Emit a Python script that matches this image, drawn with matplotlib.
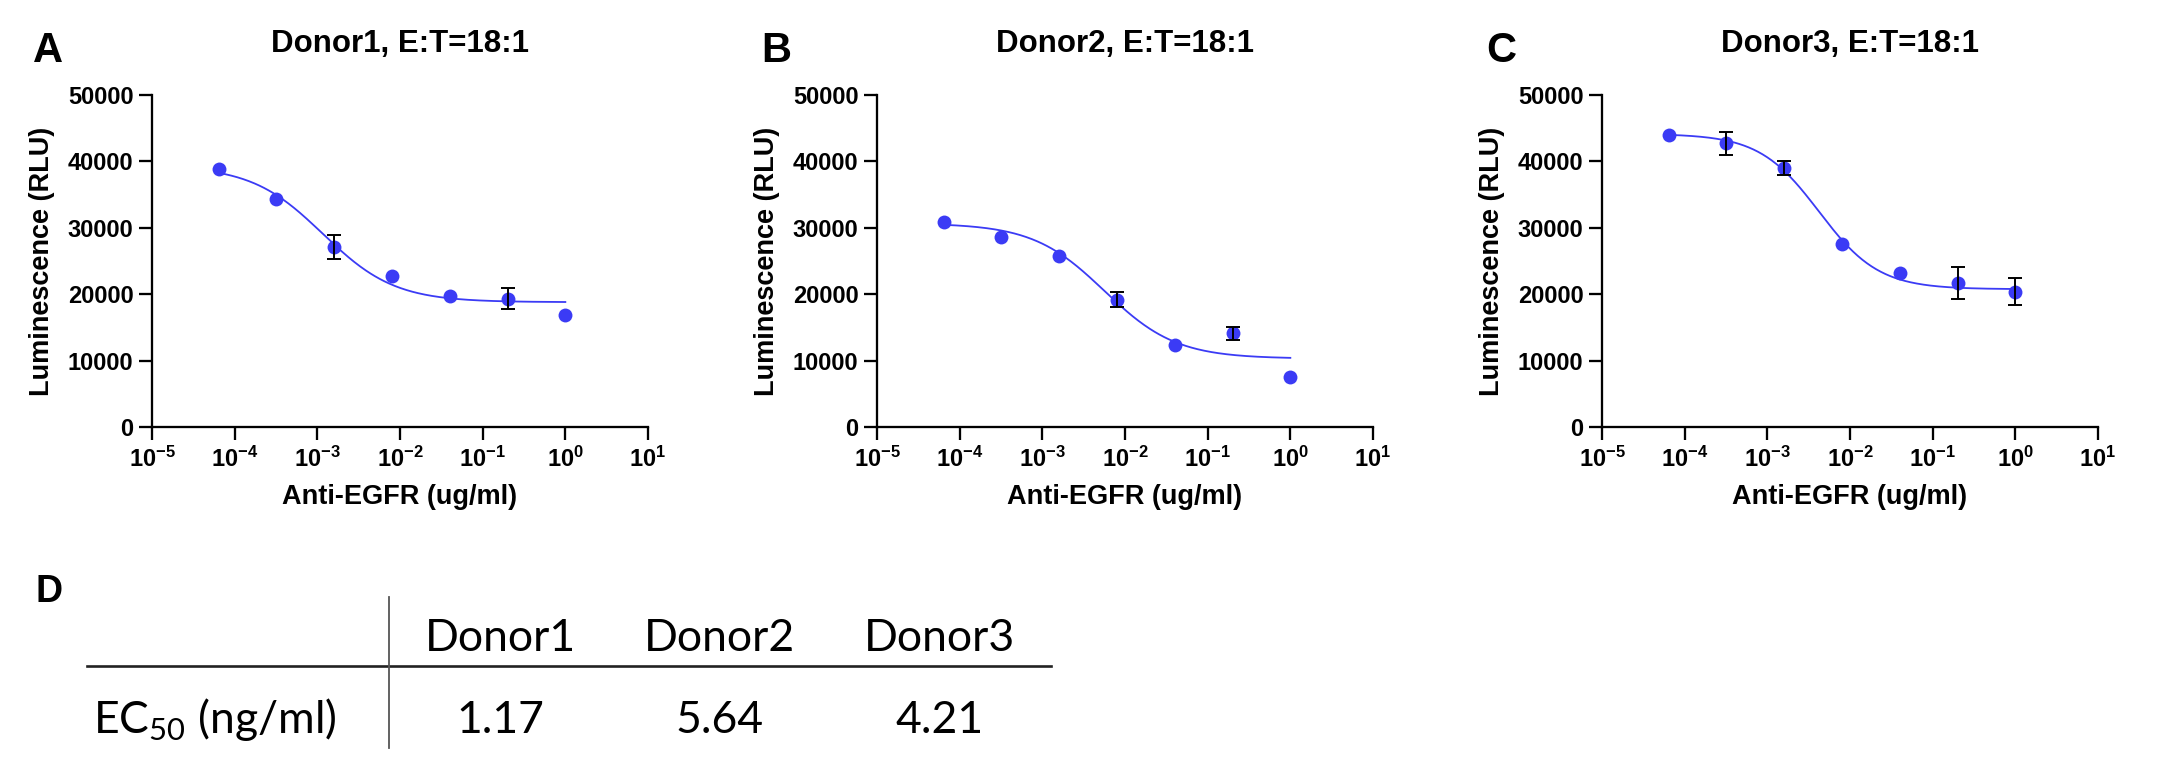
import numpy as np
import matplotlib
matplotlib.use("Agg")
import matplotlib.pyplot as plt
from matplotlib.lines import Line2D
from matplotlib.ticker import LogLocator, NullLocator

plt.rcParams["font.family"] = ["Liberation Sans", "DejaVu Sans"]
plt.rcParams["font.weight"] = "bold"
plt.rcParams["axes.labelweight"] = "bold"
plt.rcParams["axes.titleweight"] = "bold"

# anti-EGFR concentration (ug/ml), 5-fold dilutions
conc = [6.4e-5, 3.2e-4, 1.6e-3, 8e-3, 4e-2, 0.2, 1.0]

donor1_mean = [38800, 34300, 27100, 22700, 19700, 19300, 16900]
donor1_sd = [0, 0, 1800, 0, 0, 1600, 0]
donor2_mean = [30900, 28600, 25700, 19200, 12300, 14100, 7600]
donor2_sd = [0, 0, 0, 1200, 0, 1000, 0]
donor3_mean = [44000, 42700, 39000, 27600, 23200, 21700, 20400]
donor3_sd = [0, 1750, 1000, 0, 0, 2350, 2050]

# 4PL fit parameters (EC50 in ng/ml, from table D)
donors = ["Donor1", "Donor2", "Donor3"]
ec50_ng = [1.17, 5.64, 4.21]
fit_top = [39340, 30680, 44150]
fit_bottom = [18800, 10300, 20750]
fit_hill = [1.0, 1.0, 1.2]

panel_letters = ["A", "B", "C"]
means = [donor1_mean, donor2_mean, donor3_mean]
sds = [donor1_sd, donor2_sd, donor3_sd]

W, H = 2175, 779
fig = plt.figure(figsize=(W / 100, H / 100), dpi=100)

blue = "#3b3bf5"
lefts = [152, 877, 1602]
letter_x = [33, 761, 1486]

for i in range(3):
    ax = fig.add_axes([lefts[i] / W, 1 - 427 / H, 496 / W, 332 / H])
    x = np.array(conc)
    y = np.array(means[i])
    e = np.array(sds[i])

    xs = np.logspace(np.log10(x[0]), np.log10(x[-1]), 300)
    ec50 = ec50_ng[i] / 1000.0
    fit = fit_bottom[i] + (fit_top[i] - fit_bottom[i]) / (1 + (xs / ec50) ** fit_hill[i])
    ax.plot(xs, fit, color=blue, lw=1.3, zorder=2)
    ax.plot(x, y, "o", ms=10, color=blue, mec="none", zorder=3)
    m = e > 0
    ax.errorbar(x[m], y[m], yerr=e[m], fmt="none", ecolor="black",
                elinewidth=1.4, capsize=4.7, capthick=1.4, zorder=4)

    ax.set_xscale("log")
    ax.set_xlim(1e-5, 10)
    ax.set_ylim(0, 50000)
    ax.set_yticks(np.arange(0, 50001, 10000))
    ax.xaxis.set_major_locator(LogLocator(base=10, numticks=10))
    ax.xaxis.set_minor_locator(NullLocator())
    for s in ["top", "right"]:
        ax.spines[s].set_visible(False)
    for s in ["left", "bottom"]:
        ax.spines[s].set_linewidth(1.65)
    ax.tick_params(axis="both", length=9.4, width=1.65, labelsize=17)
    ax.tick_params(axis="y", pad=4)
    ax.tick_params(axis="x", pad=5)

    ax.set_title("{}, E:T=18:1".format(donors[i]), fontsize=22.5, pad=31)
    ax.set_xlabel("Anti-EGFR (ug/ml)", fontsize=19.5)
    ax.set_ylabel("Luminescence (RLU)", fontsize=19.5)
    ax.xaxis.label.set_va("center")
    ax.yaxis.label.set_va("center")
    ax.xaxis.set_label_coords(0.5, -0.211)
    ax.yaxis.set_label_coords(-0.222, 0.5)

    fig.text(letter_x[i] / W, 1 - 62 / H, panel_letters[i], fontsize=30,
             fontweight="bold", ha="left", va="baseline")

# panel D: EC50 table
fig.text(35 / W, 1 - 602 / H, "D", fontsize=27, fontweight="bold",
         ha="left", va="baseline")
fig.add_artist(Line2D([87 / W, 1051 / W], [1 - 666 / H, 1 - 666 / H],
                      color="#222222", lw=1.9))
fig.add_artist(Line2D([389 / W, 389 / W], [1 - 597 / H, 1 - 748 / H],
                      color="#555555", lw=1.3))
col_x = [500, 720, 940]
for i in range(3):
    fig.text(col_x[i] / W, 1 - 651 / H, donors[i], ha="center", va="baseline",
             family="Lato", fontweight="normal", fontsize=32)
    fig.text(col_x[i] / W, 1 - 733 / H, "{:.2f}".format(ec50_ng[i]), ha="center",
             va="baseline", family="Lato", fontweight="normal", fontsize=32)
fig.text(93 / W, 1 - 733 / H, r"EC$_{\mathdefault{50}}$ (ng/ml)", ha="left",
         va="baseline", family="Lato", fontweight="normal", fontsize=32)

fig.savefig("out.png", dpi=100)
